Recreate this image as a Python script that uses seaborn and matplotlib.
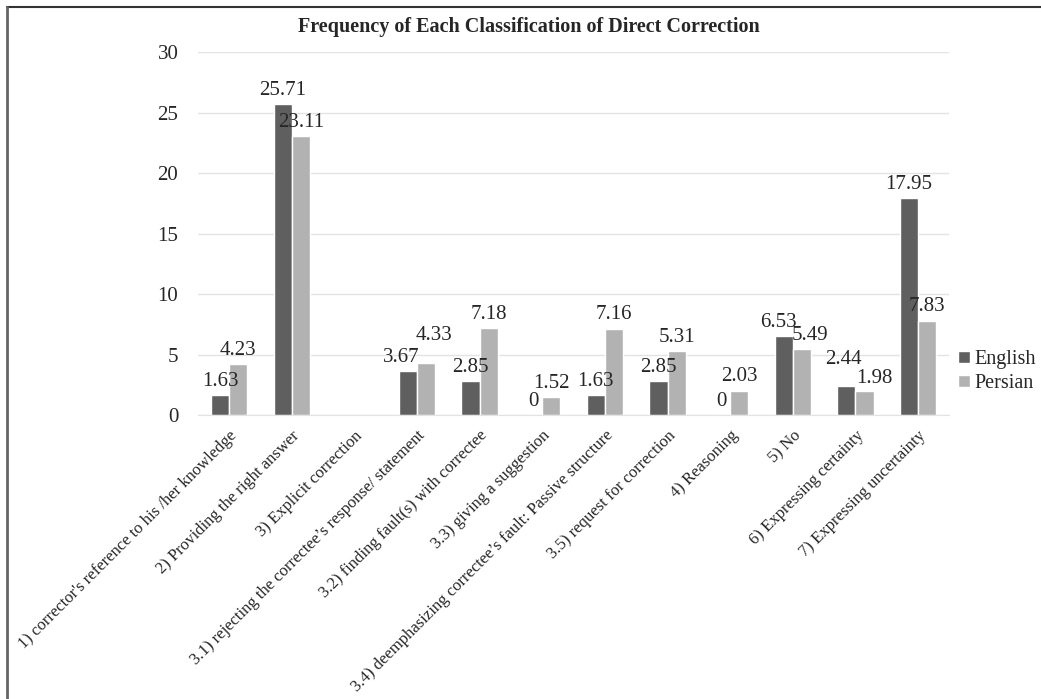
import numpy as np
import pandas as pd
import matplotlib.pyplot as plt
import seaborn as sns
from matplotlib.lines import Line2D

categories = [
    "1) corrector's reference to his /her knowledge",
    "2) Providing the right answer",
    "3) Explicit correction",
    "3.1) rejecting the correctee\u2019s response/ statement",
    "3.2) finding fault(s) with correctee",
    "3.3) giving a suggestion",
    "3.4) deemphasizing correctee\u2019s fault: Passive structure",
    "3.5) request for correction",
    "4) Reasoning",
    "5) No",
    "6) Expressing certainty",
    "7) Expressing uncertainty",
]
english = [1.63, 25.71, np.nan, 3.67, 2.85, 0, 1.63, 2.85, 0, 6.53, 2.44, 17.95]
persian = [4.23, 23.11, np.nan, 4.33, 7.18, 1.52, 7.16, 5.31, 2.03, 5.49, 1.98, 7.83]
groups = ["English", "Persian"]
colors = ["#5f5f5f", "#b2b2b2"]

df = pd.DataFrame({
    "category": categories * 2,
    "value": english + persian,
    "group": ["English"] * len(categories) + ["Persian"] * len(categories),
})

sns.set_style("white")
plt.rcParams['font.family'] = ['Liberation Serif', 'DejaVu Serif']

fig = plt.figure(figsize=(10.41, 6.99), dpi=100)
ax = fig.add_axes([0.190, 0.406, 0.722, 0.519])

sns.barplot(data=df, x="category", y="value", hue="group", order=categories,
            hue_order=groups, palette=colors, width=0.58, gap=0, saturation=1,
            ax=ax)

# data labels; a few nudged like the original to reduce overlaps
# keys: (group, category index)
nudges = {("English", 3): (-5, 3), ("Persian", 3): (6, 13),
          ("English", 10): (-2, 12), ("Persian", 10): (7, 2),
          ("English", 9): (-4, 3), ("Persian", 9): (6, 3)}
for g, cont in zip(groups, ax.containers):
    anns = ax.bar_label(cont, fmt=lambda v: '' if np.isnan(v) else f'{v:g}',
                        padding=3, fontsize=15)
    for bar, a in zip(cont, anns):
        ci = int(round(bar.get_x() + bar.get_width()))
        ci = int(round(bar.get_x() + bar.get_width() / 2))
        if (g, ci) in nudges:
            a.xyann = nudges[(g, ci)]

ax.set_ylim(0, 30)
ax.set_yticks(range(0, 31, 5))
ax.yaxis.grid(True, color='#e3e3e3', linewidth=1)
ax.set_axisbelow(True)
for s in ['top', 'right', 'left']:
    ax.spines[s].set_visible(False)
ax.spines['bottom'].set_color('#e3e3e3')
ax.tick_params(axis='y', labelsize=15, pad=14, length=0)
ax.tick_params(axis='x', labelsize=12, pad=9, length=0)
ax.set_xticks(range(len(categories)))
ax.set_xticklabels(categories, rotation=45, ha='right', rotation_mode='anchor')
ax.set_xlabel('')
ax.set_ylabel('')

ax.legend(loc='center left', bbox_to_anchor=(1.012, 0.12), frameon=False,
          fontsize=14.5, handlelength=0.6, handleheight=0.6, handletextpad=0.2,
          labelspacing=0.25, borderaxespad=0, borderpad=0)

fig.text(0.508, 0.961, 'Frequency of Each Classification of Direct Correction',
         ha='center', va='center', fontsize=14.5, fontweight='bold')

# chart border
fig.add_artist(Line2D([0.007, 1.0], [0.990, 0.990], color='#333333', lw=1.5,
                      transform=fig.transFigure))
fig.add_artist(Line2D([0.007, 0.007], [0.0, 0.990], color='#666666', lw=2,
                      transform=fig.transFigure))

fig.savefig('out.png', dpi=100)
